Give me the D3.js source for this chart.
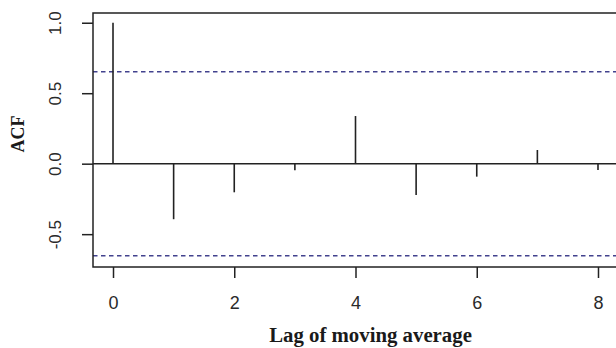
<!DOCTYPE html>
<html>
<head>
<meta charset="utf-8">
<script src="https://cdn.jsdelivr.net/npm/d3@7"></script>
<style>
  html, body { margin: 0; padding: 0; background: #fff; }
  svg { display: block; }
</style>
</head>
<body>
<svg id="chart" width="616" height="348"></svg>
<script>
// ---- data ----
const lags = [0, 1, 2, 3, 4, 5, 6, 7, 8];
const acfValues = [1.0, -0.394, -0.203, -0.047, 0.338, -0.222, -0.092, 0.097, -0.045];
const ciBound = 0.653;
const xTickValues = [0, 2, 4, 6, 8];
const xTickLabels = ["0", "2", "4", "6", "8"];
const yTickValues = [-0.5, 0.0, 0.5, 1.0];
const yTickLabels = ["-0.5", "0.0", "0.5", "1.0"];
const xTitle = "Lag of moving average";
const yTitle = "ACF";

(function () {
  const svg = d3.select("#chart");
  const pLeft = 93, pRight = 618, pTop = 13, pBottom = 267;

  const x = d3.scaleLinear().domain([-0.33, 8.33]).range([pLeft, pRight]);
  const y = d3.scaleLinear().domain([-0.733, 1.069]).range([pBottom, pTop]);

  const ink = "#222";

  // zero line
  svg.append("line")
    .attr("x1", pLeft).attr("x2", pRight)
    .attr("y1", y(0)).attr("y2", y(0))
    .attr("stroke", ink).attr("stroke-width", 1.5);

  // confidence lines
  [ciBound, -ciBound].forEach(v => {
    svg.append("line")
      .attr("x1", pLeft).attr("x2", pRight)
      .attr("y1", y(v)).attr("y2", y(v))
      .attr("stroke", "#42428e").attr("stroke-width", 1.5)
      .attr("stroke-dasharray", "4.5,3.5");
  });

  // spikes
  svg.append("g").selectAll("line")
    .data(lags)
    .join("line")
    .attr("x1", d => x(d)).attr("x2", d => x(d))
    .attr("y1", y(0))
    .attr("y2", (d, i) => y(acfValues[i]))
    .attr("stroke", ink).attr("stroke-width", 1.6);

  // box
  svg.append("rect")
    .attr("x", pLeft).attr("y", pTop)
    .attr("width", pRight - pLeft).attr("height", pBottom - pTop)
    .attr("fill", "none").attr("stroke", ink).attr("stroke-width", 1.5);

  // x axis
  const xAxis = d3.axisBottom(x)
    .tickValues(xTickValues)
    .tickFormat((d, i) => xTickLabels[i])
    .tickSize(11)
    .tickPadding(18);
  const gx = svg.append("g")
    .attr("transform", `translate(0,${pBottom})`)
    .call(xAxis);
  gx.select(".domain").remove();
  gx.selectAll(".tick line").attr("stroke", ink).attr("stroke-width", 1.5);
  gx.selectAll(".tick text")
    .attr("fill", "#2a2a2a")
    .style("font-family", "'Liberation Sans', Arial, sans-serif")
    .style("font-size", "18px");

  // y axis
  const yAxis = d3.axisLeft(y)
    .tickValues(yTickValues)
    .tickFormat((d, i) => yTickLabels[i])
    .tickSize(11);
  const gy = svg.append("g")
    .attr("transform", `translate(${pLeft},0)`)
    .call(yAxis);
  gy.select(".domain").remove();
  gy.selectAll(".tick line").attr("stroke", ink).attr("stroke-width", 1.5);
  gy.selectAll(".tick text")
    .attr("x", null).attr("dy", null)
    .attr("text-anchor", "middle")
    .attr("dominant-baseline", "central")
    .attr("transform", "translate(-37.5,0) rotate(-90)")
    .attr("fill", "#2a2a2a")
    .style("font-family", "'Liberation Sans', Arial, sans-serif")
    .style("font-size", "17px");

  // titles
  svg.append("text")
    .attr("x", 370.5).attr("y", 342)
    .attr("text-anchor", "middle")
    .style("font-family", "'Liberation Serif', 'Times New Roman', serif")
    .style("font-weight", "bold")
    .style("font-size", "20.8px")
    .attr("fill", "#1a1a1a")
    .text(xTitle);

  svg.append("text")
    .attr("transform", "translate(17.5,134) rotate(-90)")
    .attr("text-anchor", "middle")
    .attr("dominant-baseline", "central")
    .style("font-family", "'Liberation Serif', 'Times New Roman', serif")
    .style("font-weight", "bold")
    .style("font-size", "18px")
    .attr("fill", "#1a1a1a")
    .text(yTitle);
})();
</script>
</body>
</html>
